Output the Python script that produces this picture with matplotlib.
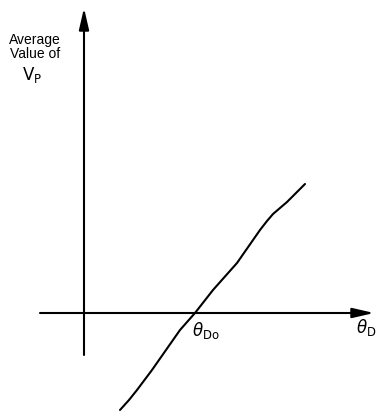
import matplotlib
matplotlib.use("Agg")
import matplotlib.pyplot as plt

plt.rcParams['font.family'] = ['Liberation Sans', 'DejaVu Sans']
plt.rcParams['mathtext.fontset'] = 'dejavusans'

# Deflection angle (relative units) and average value of V_P
theta_d = [0.36, 0.45, 0.53, 0.68, 0.82, 0.96, 1.11, 1.29, 1.53, 1.76, 1.83, 1.89, 1.96, 2.03, 2.12, 2.21]
avg_vp = [-0.97, -0.87, -0.77, -0.57, -0.37, -0.17, 0.00, 0.23, 0.50, 0.83, 0.92, 0.99, 1.05, 1.11, 1.20, 1.29]
theta_do = 1.11

W, H = 377, 413
fig = plt.figure(figsize=(W / 100, H / 100), dpi=100)
ax = fig.add_axes([0, 0, 1, 1])
ax.set_xlim(-0.84, 2.93)
ax.set_ylim(-1.00, 3.13)
ax.axis('off')

arrow = dict(arrowstyle='-|>,head_length=1.3,head_width=0.3', lw=1.5,
             color='black', shrinkA=0, shrinkB=0, mutation_scale=10)
# vertical axis
ax.annotate('', xy=(0, 3.05), xytext=(0, -0.42), arrowprops=arrow)
# horizontal axis
ax.annotate('', xy=(2.90, 0), xytext=(-0.44, 0), arrowprops=arrow)

ax.plot(theta_d, avg_vp, color='black', lw=1.5, solid_joinstyle='round',
        solid_capstyle='round')

ax.text(-0.49, 2.66, 'Average\nValue of', ha='center', va='center',
        fontsize=10, linespacing=1.0)
ax.text(-0.52, 2.38, r'$\mathrm{V_P}$', ha='center', va='center', fontsize=12)

ax.text(theta_do - 0.03, -0.07, r'$\theta_{\mathrm{Do}}$', ha='left', va='top',
        fontsize=12)
ax.text(2.72, -0.04, r'$\theta_{\mathrm{D}}$', ha='left', va='top', fontsize=12)

fig.savefig('out.png', dpi=100)
